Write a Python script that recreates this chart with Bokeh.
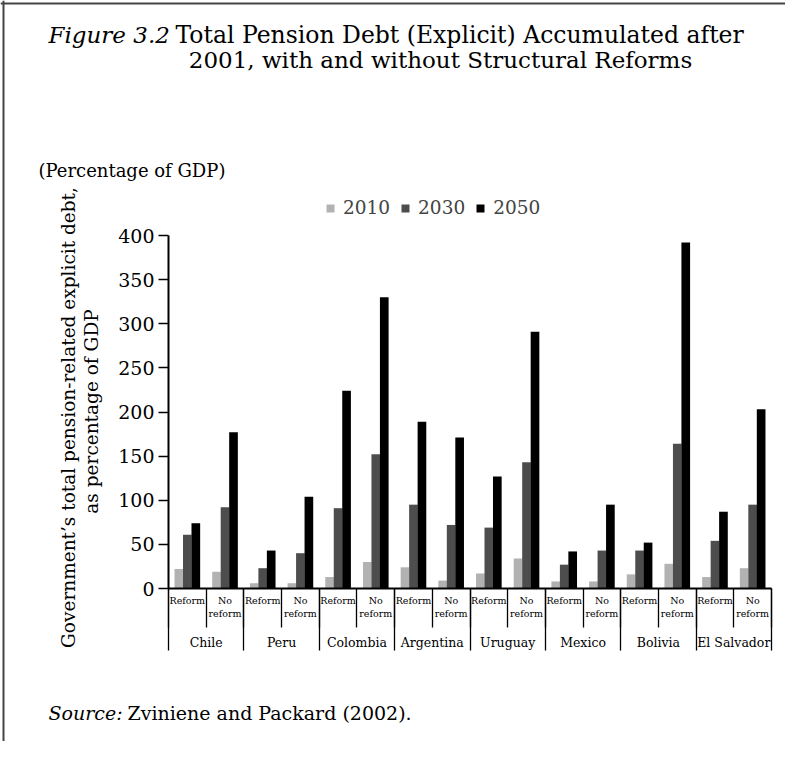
import math
from bokeh.plotting import figure
from bokeh.models import (Range1d, LinearAxis, FixedTicker, Label, Legend, LegendItem,
                          ColumnDataSource, Span)
from bokeh.transform import dodge
from bokeh.embed import file_html
from bokeh.resources import INLINE

# ---------------- data ----------------
countries = ["Chile", "Peru", "Colombia", "Argentina", "Uruguay", "Mexico", "Bolivia", "El Salvador"]
scenarios = ["Reform", "No\nreform"]
years = ["2010", "2030", "2050"]
v2010 = [22, 19, 6, 6, 13, 30, 24, 9, 17, 34, 8, 8, 16, 28, 13, 23]
v2030 = [61, 92, 23, 40, 91, 152, 95, 72, 69, 143, 27, 43, 43, 164, 54, 95]
v2050 = [74, 177, 43, 104, 224, 330, 189, 171, 127, 291, 42, 95, 52, 392, 87, 203]
y_ticks = [0, 50, 100, 150, 200, 250, 300, 350, 400]

# ---------------- layout helpers ----------------
W, H = 785, 741
X0_PX, X16_PX = 168, 771          # picture x of category 0 and 16
Y0_PX, Y400_PX = 588, 235         # picture y of value 0 and 400
n_cat = len(countries) * len(scenarios)
ux = (X16_PX - X0_PX) / n_cat
uy = (Y0_PX - Y400_PX) / 400.0


def X(px):
    return (px - X0_PX) / ux


def Y(py):
    return (Y0_PX - py) / uy


FONT = "DejaVu Serif"

p = figure(width=W, height=H, output_backend="svg", toolbar_location=None,
           x_range=Range1d(X(0), X(W)), y_range=Range1d(Y(H), Y(0)),
           x_axis_type=None, y_axis_type=None, min_border=0,
           min_border_left=0, min_border_right=0, min_border_top=0, min_border_bottom=0)
p.outline_line_color = None
p.background_fill_color = "white"
p.border_fill_color = "white"

# bars
centers = [i + 0.5 for i in range(n_cat)]
src = ColumnDataSource(dict(x=centers, v2010=v2010, v2030=v2030, v2050=v2050))
colors = ["#b2b2b2", "#4d4d4d", "#000000"]
offsets = [-0.225, 0.0, 0.225]
rends = []
for yr, col, off in zip(years, colors, offsets):
    r = p.vbar(x=dodge("x", off), top="v" + yr, width=0.23, source=src,
               fill_color=col, line_color=None)
    rends.append(r)

# y axis
yaxis = LinearAxis(fixed_location=0, bounds=(0, 400), ticker=FixedTicker(ticks=y_ticks),
                   major_tick_out=10, major_tick_in=0, minor_tick_out=0, minor_tick_in=0,
                   axis_line_width=2, axis_line_color="black",
                   major_tick_line_width=1.5, major_tick_line_color="black",
                   major_label_text_font=FONT, major_label_text_font_size="19px",
                   major_label_text_color="black", major_label_standoff=4)
p.add_layout(yaxis, "left")

# x axis line with short separators
bounds_ticks = list(range(n_cat + 1))
ax_short = LinearAxis(fixed_location=0, bounds=(0, n_cat), ticker=FixedTicker(ticks=bounds_ticks),
                      major_tick_out=39, major_tick_in=0, minor_tick_out=0, minor_tick_in=0,
                      axis_line_width=2, axis_line_color="black",
                      major_tick_line_width=1.3, major_tick_line_color="black",
                      major_label_overrides={t: "" for t in bounds_ticks})
p.add_layout(ax_short, "below")

group_ticks = list(range(0, n_cat + 1, len(scenarios)))
ax_long = LinearAxis(fixed_location=0, ticker=FixedTicker(ticks=group_ticks),
                     major_tick_out=62, major_tick_in=0, minor_tick_out=0, minor_tick_in=0,
                     axis_line_color=None,
                     major_tick_line_width=1.3, major_tick_line_color="black",
                     major_label_overrides={t: "" for t in group_ticks})
p.add_layout(ax_long, "below")

sub_labels = {c: scenarios[i % len(scenarios)] for i, c in enumerate(centers)}
ax_sub = LinearAxis(fixed_location=0, ticker=FixedTicker(ticks=centers),
                    major_tick_out=0, major_tick_in=0, minor_tick_out=0, minor_tick_in=0,
                    axis_line_color=None, major_label_overrides=sub_labels,
                    major_label_text_font=FONT, major_label_text_font_size="9.5px",
                    major_label_text_color="black", major_label_standoff=6)
p.add_layout(ax_sub, "below")

country_ticks = [g + len(scenarios) / 2 for g in group_ticks[:-1]]
ax_country = LinearAxis(fixed_location=0, ticker=FixedTicker(ticks=country_ticks),
                        major_tick_out=0, major_tick_in=0, minor_tick_out=0, minor_tick_in=0,
                        axis_line_color=None,
                        major_label_overrides={t: c for t, c in zip(country_ticks, countries)},
                        major_label_text_font=FONT, major_label_text_font_size="12.5px",
                        major_label_text_color="black", major_label_standoff=46)
p.add_layout(ax_country, "below")

# legend (location = bottom-left corner, measured from the bottom)
legend = Legend(items=[LegendItem(label=yr, renderers=[r]) for yr, r in zip(years, rends)],
                orientation="horizontal", location=(325, H - 218),
                glyph_width=10, glyph_height=10, label_standoff=8, spacing=10,
                padding=0, margin=0, border_line_color=None, background_fill_alpha=0,
                label_text_font=FONT, label_text_font_size="18.5px", label_height=20)
p.add_layout(legend)


def lab(text, px, py, size, style="normal", angle=0.0, align="left"):
    p.add_layout(Label(x=X(px), y=Y(py), text=text, text_font=FONT, text_font_size=size,
                       text_font_style=style, text_baseline="middle", text_align=align,
                       angle=angle, text_color="black"))


# titles and texts
lab("Figure 3.2", 48, 34, "23px", style="italic")
lab("Total Pension Debt (Explicit) Accumulated after", 175, 34, "23.5px")
lab("2001, with and without Structural Reforms", 440, 59, "23px", align="center")
lab("(Percentage of GDP)", 38, 170, "18px")
lab("Government\u2019s total pension-related explicit debt,", 68, 417, "18.5px", angle=math.pi / 2, align="center")
lab("as percentage of GDP", 91, 411, "18.5px", angle=math.pi / 2, align="center")
lab("Source:", 48, 712, "19px", style="italic")
lab("Zviniene and Packard (2002).", 127, 712, "19px")

# frame border lines (top and left)
p.add_layout(Span(location=Y(3), dimension="width", line_color="#444444", line_width=2))
p.add_layout(Span(location=X(3), dimension="height", line_color="#444444", line_width=2))

open("out.html", "w").write(file_html(p, INLINE))
